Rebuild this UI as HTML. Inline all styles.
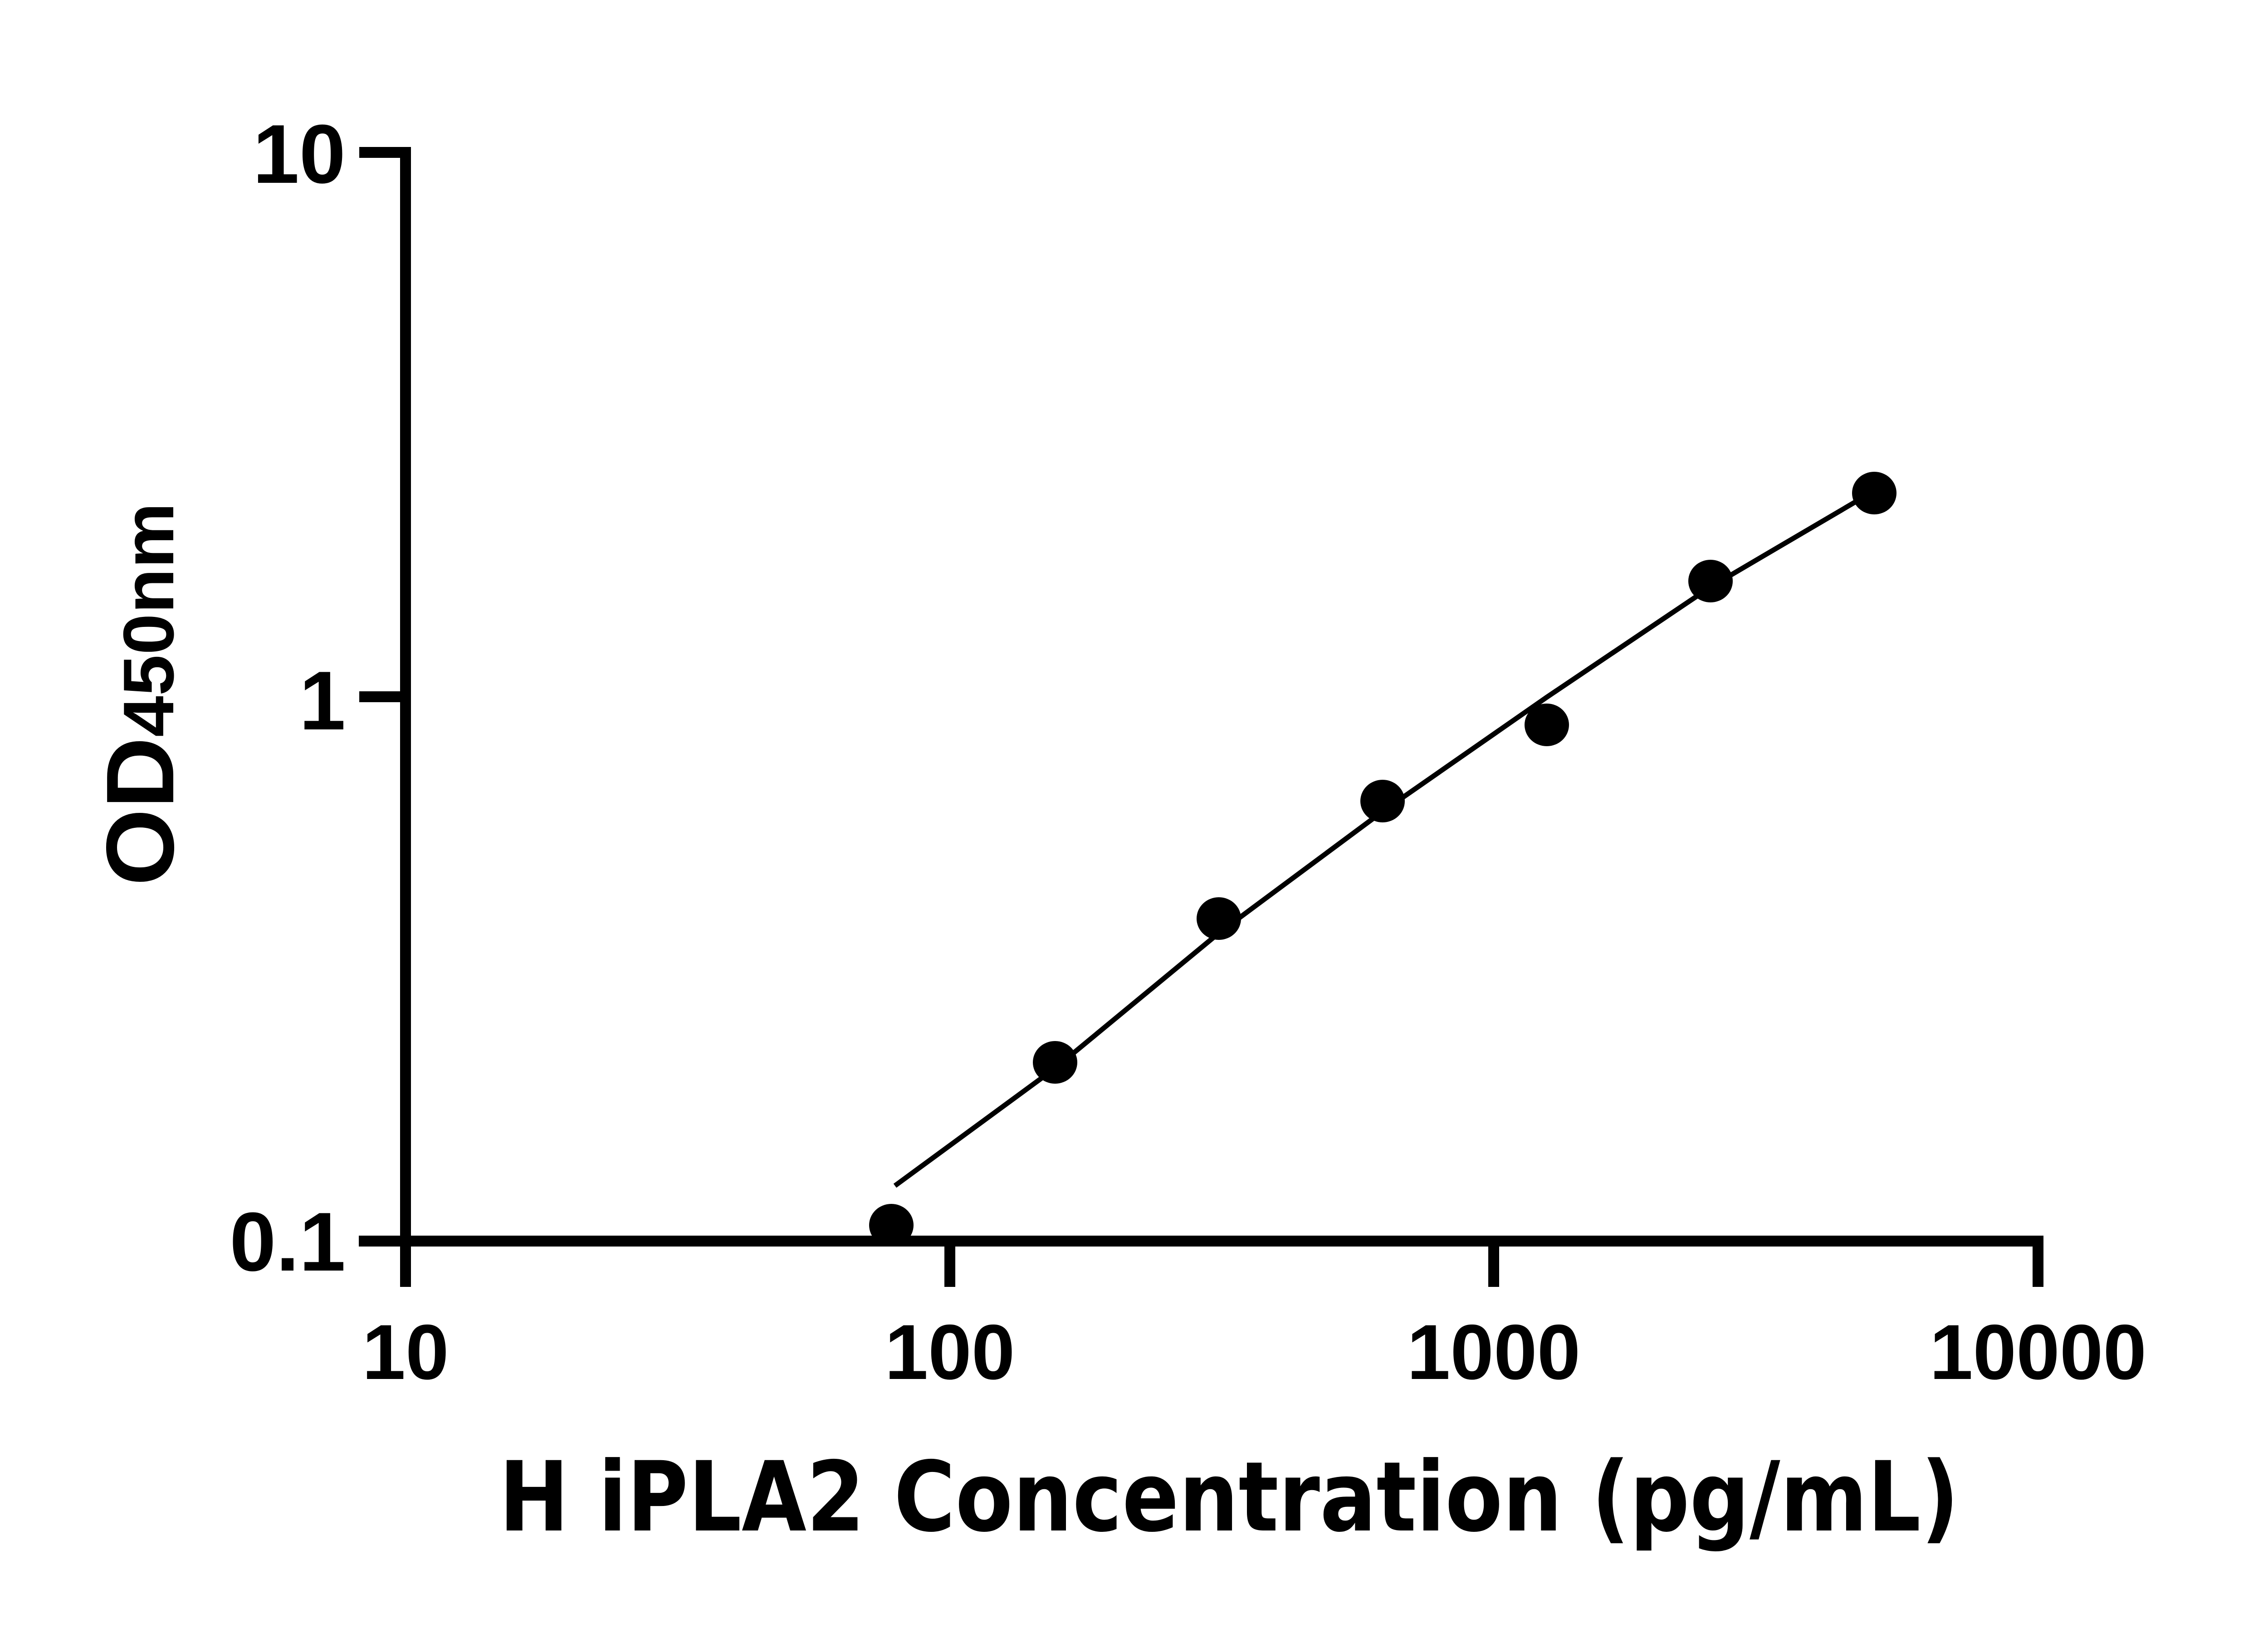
<!DOCTYPE html>
<html><head><meta charset="utf-8"><style>html,body{margin:0;padding:0;background:#fff}svg{display:block}</style></head>
<body>
<svg width="5046" height="3600" viewBox="0 0 5046 3600" xmlns="http://www.w3.org/2000/svg">
<rect width="5046" height="3600" fill="#fff"/>
<g stroke="#000" stroke-width="24" fill="none" stroke-linecap="butt">
  <line x1="894" y1="324" x2="894" y2="2837"/>
  <line x1="791" y1="2736" x2="4505" y2="2736"/>
  <line x1="792" y1="336" x2="894" y2="336"/>
  <line x1="792" y1="1536" x2="894" y2="1536"/>
  <line x1="2094" y1="2736" x2="2094" y2="2837"/>
  <line x1="3293" y1="2736" x2="3293" y2="2837"/>
  <line x1="4493" y1="2724" x2="4493" y2="2837"/>
</g>
<polyline fill="none" stroke="#000" stroke-width="11" points="1973,2614 2326,2355 2687,2057 3048,1789 3410,1537 3771,1294 4132,1082"/>
<g fill="#000">
  <ellipse cx="1965" cy="2701" rx="49" ry="47"/>
  <ellipse cx="2326" cy="2342" rx="49" ry="47"/>
  <ellipse cx="2687" cy="2025" rx="49" ry="47"/>
  <ellipse cx="3048" cy="1766" rx="49" ry="47"/>
  <ellipse cx="3410" cy="1598" rx="49" ry="47"/>
  <ellipse cx="3771" cy="1281" rx="49" ry="47"/>
  <ellipse cx="4132" cy="1087" rx="49" ry="47"/>
</g>
<g font-family="'Liberation Sans', Arial, sans-serif" font-weight="bold" fill="#000">
  <text x="762" y="403" font-size="184" text-anchor="end">10</text>
  <text x="762" y="1608" font-size="184" text-anchor="end">1</text>
  <text x="762" y="2801" font-size="184" text-anchor="end">0.1</text>
  <text x="894" y="3040" font-size="172" text-anchor="middle">10</text>
  <text x="2094" y="3040" font-size="172" text-anchor="middle">100</text>
  <text x="3293" y="3040" font-size="172" text-anchor="middle">1000</text>
  <text x="4493" y="3040" font-size="172" text-anchor="middle">10000</text>
  <text x="1100" y="3374" font-size="213" font-family="'DejaVu Sans', 'Liberation Sans', sans-serif" textLength="3219" lengthAdjust="spacingAndGlyphs">H iPLA2 Concentration (pg/mL)</text>
  <text transform="translate(382,1953) rotate(-90)" font-size="212" textLength="845" lengthAdjust="spacingAndGlyphs">OD<tspan font-size="158">450nm</tspan></text>
</g>
</svg>
</body></html>
